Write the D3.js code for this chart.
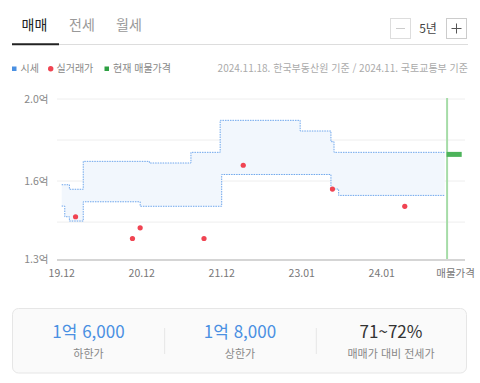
<!DOCTYPE html>
<html lang="ko">
<head>
<meta charset="UTF-8">
<script src="https://d3js.org/d3.v7.min.js"></script>
<style>
  body { margin: 0; background: #fff; }
  text { font-family: "Noto Sans CJK KR", "Noto Sans", sans-serif; }
</style>
</head>
<body>
<div id="chart"></div>
<script>
// tabs / legend / summary texts
var tabs = ["매매", "전세", "월세"];
var legendItems = ["시세", "실거래가", "현재 매물가격"];
var sourceNote = "2024.11.18. 한국부동산원 기준 / 2024.11. 국토교통부 기준";
var periodLabel = "5년";

// x axis: weekly point index, labels every 52 points
var xTickIndex = [0, 52, 104, 156, 208];
var xTickLabels = ["19.12", "20.12", "21.12", "23.01", "24.01"];
var listingLabel = "매물가격";
var lastIndex = 249;

// y axis (억)
var yGrid = [2.04, 1.84, 1.64, 1.44];
var yLabelTicks = [2.04, 1.64, 1.26];

// 시세 상한 / 하한 (change points: index, value in 억)
var upperIdx = [0, 5, 14, 57, 84, 103, 155, 175, 177];
var upperVal = [1.622, 1.60, 1.736, 1.728, 1.78, 1.936, 1.884, 1.832, 1.78];
var lowerIdx = [0, 2, 5, 14, 51, 104, 175, 180];
var lowerVal = [1.518, 1.466, 1.445, 1.539, 1.517, 1.672, 1.601, 1.57];

// 실거래가
var saleIdx = [9, 46, 51, 92.5, 118, 176, 223];
var saleVal = [1.466, 1.36, 1.412, 1.36, 1.717, 1.601, 1.517];

// 현재 매물가격
var listingVal = 1.77;

// summary
var summaryValues = ["1억 6,000", "1억 8,000", "71~72%"];
var summaryLabels = ["하한가", "상한가", "매매가 대비 전세가"];

var W = 480, H = 383;
var svg = d3.select("#chart").append("svg").attr("width", W).attr("height", H);

// ---- tabs
var tabX = [34.5, 82, 129];
svg.selectAll(".tab").data(tabs).enter().append("text")
    .attr("x", function(d, i) { return tabX[i]; })
    .attr("y", 30)
    .attr("text-anchor", "middle")
    .attr("font-size", 14)
    .attr("fill", function(d, i) { return i === 0 ? "#222" : "#999"; })
    .text(function(d) { return d; });
svg.append("line").attr("x1", 12).attr("x2", 468).attr("y1", 44.5).attr("y2", 44.5)
    .attr("stroke", "#ddd").attr("stroke-width", 1);
svg.append("line").attr("x1", 12).attr("x2", 59).attr("y1", 44.3).attr("y2", 44.3)
    .attr("stroke", "#222").attr("stroke-width", 2);

// ---- period buttons
svg.append("rect").attr("x", 390.5).attr("y", 18.5).attr("width", 20).attr("height", 20)
    .attr("fill", "#fff").attr("stroke", "#ddd");
svg.append("line").attr("x1", 396).attr("x2", 405).attr("y1", 28.5).attr("y2", 28.5)
    .attr("stroke", "#ccc");
svg.append("text").attr("x", 428).attr("y", 33).attr("text-anchor", "middle")
    .attr("font-size", 12).attr("fill", "#444").text(periodLabel);
svg.append("rect").attr("x", 446.5).attr("y", 18.5).attr("width", 20).attr("height", 20)
    .attr("fill", "#fff").attr("stroke", "#ccc");
svg.append("line").attr("x1", 451.5).attr("x2", 461.5).attr("y1", 28.5).attr("y2", 28.5)
    .attr("stroke", "#555");
svg.append("line").attr("x1", 456.5).attr("x2", 456.5).attr("y1", 23.5).attr("y2", 33.5)
    .attr("stroke", "#555");

// ---- legend
var lg = svg.append("g").attr("font-size", 10).attr("fill", "#888");
lg.append("rect").attr("x", 12).attr("y", 66.5).attr("width", 4.5).attr("height", 4.5).attr("fill", "#4a90e2");
lg.append("text").attr("x", 20.5).attr("y", 72).text(legendItems[0]);
lg.append("circle").attr("cx", 50.7).attr("cy", 68.7).attr("r", 2.7).attr("fill", "#f04452");
lg.append("text").attr("x", 56.5).attr("y", 72).text(legendItems[1]);
lg.append("rect").attr("x", 104.5).attr("y", 66.5).attr("width", 4.5).attr("height", 4.5).attr("fill", "#2ea043");
lg.append("text").attr("x", 113).attr("y", 72).text(legendItems[2]);
svg.append("text").attr("x", 468).attr("y", 72).attr("text-anchor", "end")
    .attr("font-size", 10).attr("fill", "#aaa").text(sourceNote);

// ---- scales
var x = d3.scaleLinear().domain([0, 260]).range([61.7, 461.7]);
var y = d3.scaleLinear().domain([1.26, 2.04]).range([259, 99]);
var plotLeft = 57, plotRight = 465;

// grid
svg.selectAll(".grid").data(yGrid).enter().append("line")
    .attr("x1", plotLeft).attr("x2", plotRight)
    .attr("y1", function(d) { return y(d); }).attr("y2", function(d) { return y(d); })
    .attr("stroke", "#eee").attr("stroke-width", 1);

// y labels
svg.selectAll(".ylab").data(yLabelTicks).enter().append("text")
    .attr("x", 48.5).attr("y", function(d) { return y(d) + 3.5; })
    .attr("text-anchor", "end").attr("font-size", 10.5).attr("fill", "#888")
    .text(function(d) { return d3.format(".1f")(d) + "억"; });

// band data
function stepAt(idxs, vals, i) {
    var v = vals[0];
    for (var k = 0; k < idxs.length; k++) if (idxs[k] <= i) v = vals[k];
    return v;
}
var keys = Array.from(new Set(upperIdx.concat(lowerIdx).concat([lastIndex]))).sort(function(a, b) { return a - b; });
var band = keys.map(function(i) {
    return {i: i, hi: stepAt(upperIdx, upperVal, i), lo: stepAt(lowerIdx, lowerVal, i)};
});

svg.append("path").datum(band)
    .attr("d", d3.area().curve(d3.curveStepAfter)
        .x(function(d) { return x(d.i); })
        .y0(function(d) { return y(d.lo); })
        .y1(function(d) { return y(d.hi); }))
    .attr("fill", "#f2f7fd");

["hi", "lo"].forEach(function(k) {
    svg.append("path").datum(band)
        .attr("d", d3.line().curve(d3.curveStepAfter)
            .x(function(d) { return x(d.i); })
            .y(function(d) { return y(d[k]); }))
        .attr("fill", "none").attr("stroke", "#6ea6ec")
        .attr("stroke-width", 1).attr("stroke-dasharray", "1.5,1");
});

// x axis line
svg.append("line").attr("x1", plotLeft).attr("x2", plotRight).attr("y1", 260).attr("y2", 260)
    .attr("stroke", "#d5d5d5").attr("stroke-width", 2);

// listing marker
var listingIdx = 250.5;
svg.append("line").attr("x1", x(listingIdx)).attr("x2", x(listingIdx))
    .attr("y1", y(2.04) - 1).attr("y2", 259)
    .attr("stroke", "#a6dca8").attr("stroke-width", 2);
svg.append("rect").attr("x", x(listingIdx) - 0.5).attr("y", y(listingVal) - 2.5)
    .attr("width", x(260) - x(listingIdx) + 0.5).attr("height", 5)
    .attr("fill", "#4cb35a");

// sale dots
svg.selectAll(".sale").data(saleIdx).enter().append("circle")
    .attr("cx", function(d) { return x(d); })
    .attr("cy", function(d, i) { return y(saleVal[i]); })
    .attr("r", 2.6).attr("fill", "#f04452");

// x labels
svg.selectAll(".xlab").data(xTickIndex).enter().append("text")
    .attr("x", function(d) { return x(d); }).attr("y", 276.5)
    .attr("text-anchor", "middle").attr("font-size", 10.5).attr("fill", "#777")
    .text(function(d, i) { return xTickLabels[i]; });
svg.append("text").attr("x", x(256)).attr("y", 276.5).attr("text-anchor", "middle")
    .attr("font-size", 10.5).attr("fill", "#777").text(listingLabel);

// ---- summary box
svg.append("rect").attr("x", 12.5).attr("y", 308.5).attr("width", 454).attr("height", 64.5)
    .attr("rx", 6).attr("fill", "#fafafa").attr("stroke", "#e6e6e6");
var colX = [88.5, 240, 391];
[164.7, 316.3].forEach(function(dx) {
    svg.append("line").attr("x1", dx).attr("x2", dx).attr("y1", 328).attr("y2", 354)
        .attr("stroke", "#e6e6e6");
});
svg.selectAll(".sv").data(summaryValues).enter().append("text")
    .attr("x", function(d, i) { return colX[i]; }).attr("y", 338)
    .attr("text-anchor", "middle").attr("font-size", 17)
    .attr("fill", function(d, i) { return i < 2 ? "#4a90e2" : "#333"; })
    .text(function(d) { return d; });
svg.selectAll(".sl").data(summaryLabels).enter().append("text")
    .attr("x", function(d, i) { return colX[i]; }).attr("y", 357.5)
    .attr("text-anchor", "middle").attr("font-size", 11).attr("fill", "#888")
    .text(function(d) { return d; });
</script>
</body>
</html>
